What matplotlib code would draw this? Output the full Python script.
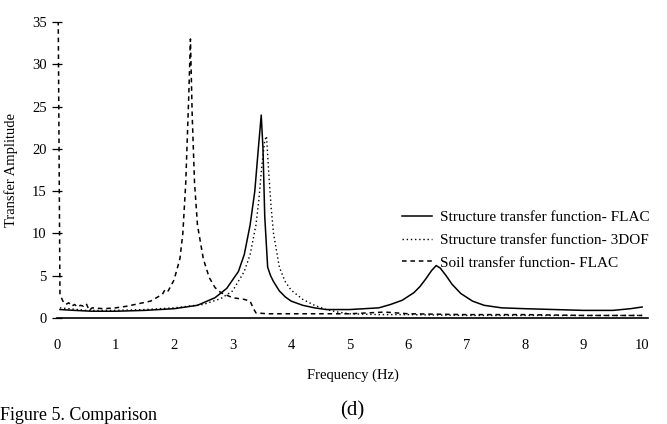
import numpy as np
import matplotlib
matplotlib.use('Agg')
from matplotlib import pyplot as plt

plt.rcParams['font.family'] = ['Liberation Serif', 'DejaVu Serif']

# Structure transfer function - FLAC (solid)
struct_f = [0.05, 0.3, 0.6, 1.0, 1.5, 2.0, 2.4, 2.7, 2.9, 3.1, 3.2, 3.3, 3.38, 3.44, 3.49,
            3.52, 3.55, 3.6, 3.65, 3.7, 3.8, 3.9, 4.0, 4.2, 4.4, 4.6, 5.0, 5.5, 5.7, 5.9,
            6.1, 6.2, 6.3, 6.4, 6.48, 6.55, 6.65, 6.75, 6.9, 7.1, 7.3, 7.6, 8.0, 8.5, 9.0,
            9.5, 9.8, 10.0]
struct_a = [1.0, 0.9, 0.8, 0.8, 0.9, 1.1, 1.5, 2.4, 3.5, 5.5, 7.5, 11, 15, 20, 24,
            20, 12, 6, 5, 4.3, 3.2, 2.5, 2.0, 1.5, 1.2, 1.0, 1.0, 1.2, 1.6, 2.1,
            3.0, 3.7, 4.6, 5.6, 6.2, 5.9, 5.0, 4.0, 2.9, 2.0, 1.5, 1.2, 1.1, 1.0, 0.9,
            0.9, 1.1, 1.3]

# Structure transfer function - 3DOF (dotted)
dof_f = [0.05, 0.5, 1.0, 1.5, 2.0, 2.5, 2.8, 3.0, 3.2, 3.3, 3.4, 3.45, 3.5, 3.55, 3.58,
         3.62, 3.66, 3.7, 3.75, 3.8, 3.9, 4.0, 4.2, 4.4, 4.6, 4.8, 5.0, 5.5, 6, 7, 8, 9, 10]
dof_a = [1.2, 0.9, 0.9, 1.0, 1.2, 1.6, 2.3, 3.2, 5.5, 7.5, 11, 14, 18, 21, 21.5,
         17, 13, 10, 8, 6, 4.3, 3.3, 2.2, 1.5, 1.0, 0.7, 0.5, 0.4, 0.4, 0.3, 0.3, 0.3, 0.3]

# Soil transfer function - FLAC (dashed)
soil_f = [0.0, 0.02, 0.05, 0.1, 0.15, 0.2, 0.25, 0.3, 0.35, 0.4, 0.45, 0.5, 0.55, 0.6,
          0.8, 1.0, 1.2, 1.4, 1.6, 1.7, 1.8, 1.85, 1.9, 2.0, 2.1, 2.15, 2.2, 2.25, 2.28,
          2.31, 2.35, 2.4, 2.5, 2.6, 2.7, 2.8, 3.0, 3.2, 3.3, 3.35, 3.4, 3.6, 4.0, 4.5,
          5.0, 5.6, 6.0, 7.0, 7.6, 8.0, 9.0, 10.0]
soil_a = [36, 36, 2.8, 2.0, 1.6, 1.8, 1.4, 1.6, 1.3, 1.5, 1.4, 1.7, 0.9, 1.2,
          1.1, 1.2, 1.4, 1.7, 2.0, 2.4, 2.8, 3.4, 3.2, 4.5, 7, 10, 16, 26, 33,
          24, 16, 11, 7, 4.8, 3.6, 3.0, 2.4, 2.2, 2.0, 1.2, 0.6, 0.5, 0.5, 0.5,
          0.5, 0.7, 0.5, 0.4, 0.4, 0.4, 0.3, 0.3]

yticks = [0, 5, 10, 15, 20, 25, 30, 35]
xticks = [0, 1, 2, 3, 4, 5, 6, 7, 8, 9, 10]

fig = plt.figure(figsize=(6.67, 4.24), dpi=100)
ax = fig.add_axes([0.0855, 0.25, 0.886, 0.698])

l1, = ax.plot(struct_f, struct_a, color='black', lw=1.1)
l2, = ax.plot(dof_f, dof_a, color='black', lw=1.0, linestyle=(0, (1, 2)))
l3, = ax.plot(soil_f, soil_a, color='black', lw=1.1, linestyle=(0, (3, 2.5)))

ax.set_xlim(0, 10.1)
ax.set_ylim(0, 35)
ax.spines['top'].set_visible(False)
ax.spines['right'].set_visible(False)
ax.spines['left'].set_visible(False)
ax.spines['bottom'].set_linewidth(1.2)

ax.set_yticks(yticks)
ax.set_yticklabels([str(v) for v in yticks], fontsize=10.5)
ax.tick_params(axis='y', direction='inout', length=7, width=0.9, pad=4)
ax.set_xticks(xticks)
ax.set_xticklabels([str(v) for v in xticks], fontsize=10.5)
ax.tick_params(axis='x', length=0, pad=15)

ax.set_ylabel('Transfer Amplitude', fontsize=10.5, labelpad=10)
ax.set_xlabel('Frequency (Hz)', fontsize=10.5, labelpad=12)

leg = ax.legend([l1, l2, l3],
                ['Structure transfer function- FLAC',
                 'Structure transfer function- 3DOF',
                 'Soil transfer function- FLAC'],
                loc='upper left', bbox_to_anchor=(0.56, 0.41), frameon=False,
                fontsize=11, handlelength=2.0, handletextpad=0.5, labelspacing=0.6)

fig.text(0.528, 0.03, '(d)', fontsize=15, ha='center', va='center')
fig.text(0.0, 0.0, 'Figure 5. Comparison', fontsize=13, ha='left', va='bottom')

fig.savefig('out.png', dpi=100)
